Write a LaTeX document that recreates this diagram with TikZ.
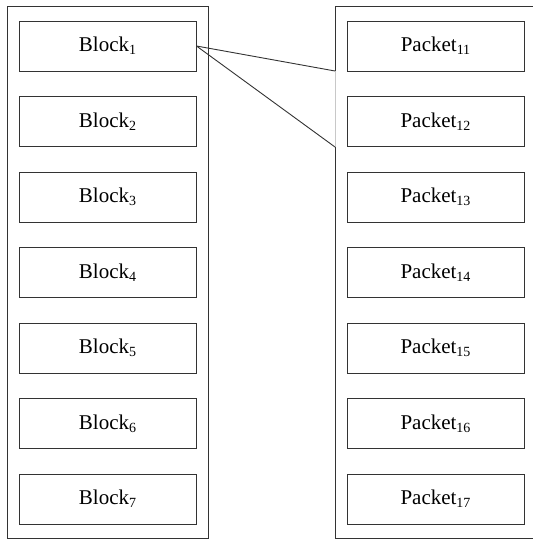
\documentclass[tikz,border=0pt]{standalone}
\usepackage{fontspec}
\setmainfont{Liberation Serif}
\newcommand\lowsubscr[1]{\raisebox{-3pt}{\fontsize{14}{14}\selectfont #1}}
\definecolor{ink}{HTML}{333333}
\definecolor{faint}{HTML}{C8C8C8}
\begin{document}
\begin{tikzpicture}[x=1pt,y=-1pt,
  blockbox/.style={draw=ink,line width=0.9pt,minimum width=177pt,minimum height=50pt,inner sep=0pt,
    font=\fontsize{21}{25}\selectfont,text=black},
  outer/.style={draw=ink,line width=0.9pt},
  link/.style={draw=ink,line width=0.9pt}]
\useasboundingbox (0,0) rectangle (532,540);
% containers
\draw[outer] (7,6) rectangle (208,538);
\draw[outer] (335,71) -- (335,6) -- (545,6) -- (545,538) -- (335,538) -- (335,147);
\draw[faint,line width=0.8pt] (335,71) -- (335,147);
% blocks
\foreach \i in {1,...,7}{
  \pgfmathsetmacro{\yc}{46+(\i-1)*75.5}
  \node[blockbox] (b\i) at (107.5,\yc) {Block\lowsubscr{\i}};
  \node[blockbox] (p\i) at (435.5,\yc) {Packet\lowsubscr{1\i}};
}
\coordinate (e1) at (335,71);
\coordinate (e2) at (335,147);
\draw[link] (b1.east) -- (e1);
\draw[link] (b1.east) -- (e2);
\end{tikzpicture}
\end{document}
